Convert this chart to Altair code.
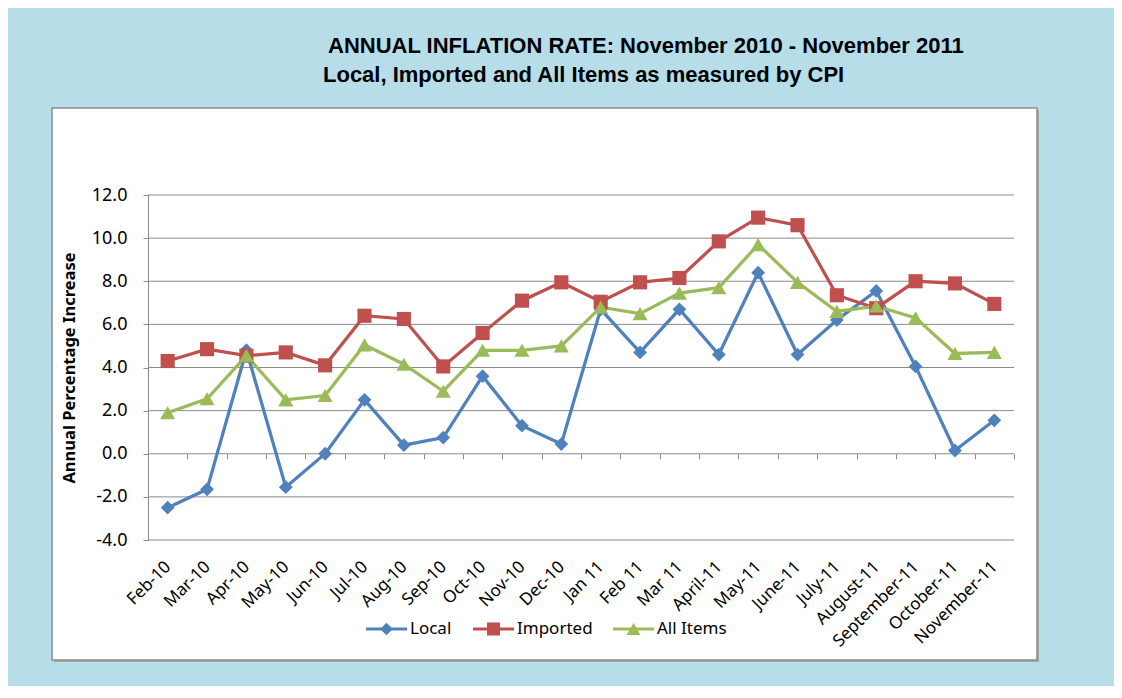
import altair as alt
import pandas as pd

months = ["Feb-10", "Mar-10", "Apr-10", "May-10", "Jun-10", "Jul-10", "Aug-10",
          "Sep-10", "Oct-10", "Nov-10", "Dec-10", "Jan 11", "Feb 11", "Mar 11",
          "April-11", "May-11", "June-11", "July-11", "August-11",
          "September-11", "October-11", "November-11"]
local = [-2.5, -1.65, 4.8, -1.55, 0.0, 2.5, 0.4, 0.75, 3.6, 1.3, 0.45, 6.7,
         4.7, 6.7, 4.6, 8.4, 4.6, 6.2, 7.55, 4.05, 0.15, 1.55]
imported = [4.3, 4.85, 4.55, 4.7, 4.1, 6.4, 6.25, 4.05, 5.6, 7.1, 7.95, 7.05,
            7.95, 8.15, 9.85, 10.95, 10.6, 7.35, 6.75, 8.0, 7.9, 6.95]
all_items = [1.9, 2.55, 4.55, 2.5, 2.7, 5.05, 4.15, 2.9, 4.8, 4.8, 5.0, 6.8,
             6.5, 7.45, 7.7, 9.7, 7.95, 6.6, 6.85, 6.3, 4.65, 4.7]
series = ["Local", "Imported", "All Items"]
colors = ["#4F81BD", "#C0504D", "#9BBB59"]
y_ticks = [-4, -2, 0, 2, 4, 6, 8, 10, 12]
title1 = "ANNUAL INFLATION RATE: November 2010 - November 2011"
title2 = "Local, Imported and All Items as measured by CPI"
y_title = "Annual Percentage Increase"

rows = []
for name, vals in zip(series, [local, imported, all_items]):
    for m, v in zip(months, vals):
        rows.append({"month": m, "series": name, "value": v})
df = pd.DataFrame(rows)

FONT = "Noto Sans"
GRID = "#8a8a8a"

xscale = alt.Scale(type="band", domain=months, paddingInner=0, paddingOuter=0)
yscale = alt.Scale(domain=[-4, 12], nice=False, zero=False)
cscale = alt.Scale(domain=series, range=colors)

x_axis = alt.Axis(title=None, domain=False, ticks=True, tickBand="extent",
                  tickColor=GRID, tickSize=5, offset=-86.25, labelAngle=-45,
                  labelAlign="right", labelBaseline="middle", labelPadding=105,
                  labelFont=FONT, labelFontSize=17, labelColor="black",
                  labelOverlap=False, labelFlush=False, grid=False, zindex=1)
y_axis = alt.Axis(values=y_ticks,
                  labelExpr="datum.value < 0 ? '-' + format(-datum.value, '.1f') : format(datum.value, '.1f')",
                  grid=False, domainColor=GRID, tickColor=GRID, tickSize=5,
                  labelPadding=16, labelFont=FONT, labelFontSize=18,
                  labelColor="black", title=y_title, titleFont=FONT,
                  titleFontSize=16.5, titleFontWeight="bold", titleColor="black",
                  titleX=-79, titleY=172.5, titleBaseline="middle",
                  titleAlign="center", zindex=1)

X = alt.X("month:N", sort=months, scale=xscale, axis=x_axis)
Y = alt.Y("value:Q", scale=yscale, axis=y_axis)

one = pd.DataFrame({"a": [0]})

shadow = alt.Chart(one).mark_rect(fill="#a8a8a8").encode(
    x=alt.value(-94), x2=alt.value(891), y=alt.value(-85), y2=alt.value(467))
box = alt.Chart(one).mark_rect(fill="white", stroke="#8c8c8c", strokeWidth=1.5).encode(
    x=alt.value(-96), x2=alt.value(889), y=alt.value(-87), y2=alt.value(465))

grid = alt.Chart(pd.DataFrame({"value": y_ticks})).mark_rule(
    color=GRID, strokeWidth=1).encode(y=Y)

t1 = alt.Chart(pd.DataFrame({"t": [title1]})).mark_text(
    font="Liberation Sans", fontSize=22, fontWeight="bold", color="black",
    align="left", baseline="alphabetic").encode(
    text="t:N", x=alt.value(180), y=alt.value(-142))
t2 = alt.Chart(pd.DataFrame({"t": [title2]})).mark_text(
    font="Liberation Sans", fontSize=22, fontWeight="bold", color="black",
    align="left", baseline="alphabetic").encode(
    text="t:N", x=alt.value(175), y=alt.value(-113))

lines = alt.Chart(df).mark_line(strokeWidth=3.25).encode(
    x=X, y=Y, color=alt.Color("series:N", scale=cscale, legend=None))

shapes = {"Local": ("diamond", 190), "Imported": ("square", 200),
          "All Items": ("triangle-up", 230)}
points = []
for name in series:
    shp, sz = shapes[name]
    points.append(
        alt.Chart(df).transform_filter(alt.datum.series == name)
        .mark_point(filled=True, shape=shp, size=sz, opacity=1)
        .encode(x=X, y=Y, color=alt.Color("series:N", scale=cscale, legend=None))
    )

# legend drawn from marks (line sample + marker + label), laid out in a row
legend_left = [218, 325, 465]
legend_y = 434
legend_layers = []
for name, col, left in zip(series, colors, legend_left):
    shp, sz = shapes[name]
    legend_layers.append(
        alt.Chart(one).mark_rule(color=col, strokeWidth=3).encode(
            x=alt.value(left), x2=alt.value(left + 41), y=alt.value(legend_y)))
    legend_layers.append(
        alt.Chart(one).mark_point(filled=True, shape=shp, size=sz * 0.85,
                                  opacity=1, color=col).encode(
            x=alt.value(left + 20.5), y=alt.value(legend_y)))
    legend_layers.append(
        alt.Chart(pd.DataFrame({"t": [name]})).mark_text(
            font=FONT, fontSize=17, color="black", align="left",
            baseline="middle").encode(
            text="t:N", x=alt.value(left + 44), y=alt.value(legend_y)))

chart = alt.layer(shadow, box, grid, t1, t2, lines, *points, *legend_layers).properties(
    width=866, height=345,
    background="#B7DEE8",
    padding={"left": 140, "top": 187, "right": 100, "bottom": 146},
    autosize=alt.AutoSizeParams(type="none"),
).configure_view(stroke=None)

chart.save("out.html", embed_options={"renderer": "svg", "actions": False})
